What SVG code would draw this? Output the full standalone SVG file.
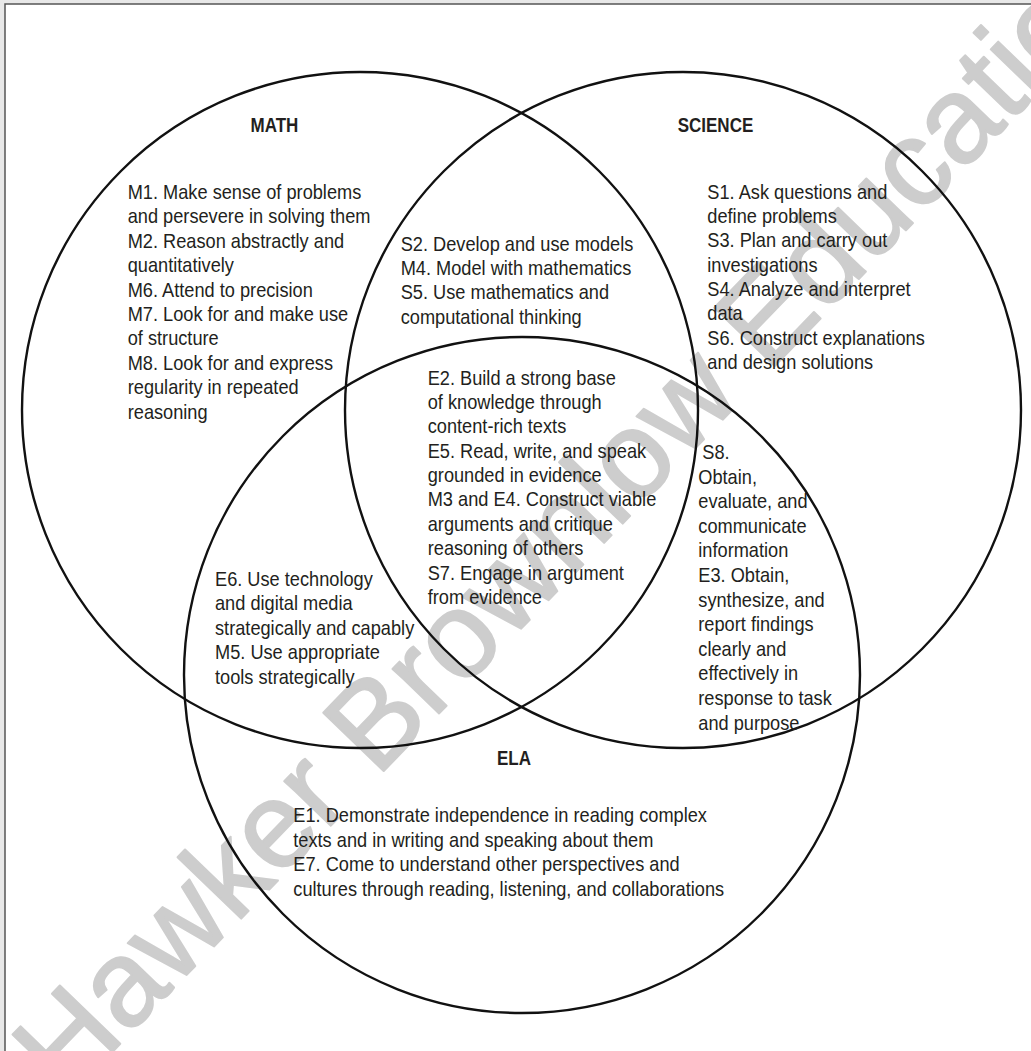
<svg xmlns="http://www.w3.org/2000/svg" width="1031" height="1051" viewBox="0 0 1031 1051">
<style>
  .frame { fill: #ffffff; stroke: #555555; stroke-width: 1.5; }
  .ring { fill: none; stroke: #111111; stroke-width: 2.4; }
  .t { font-family: "Liberation Sans", Arial, Helvetica, sans-serif; font-size: 20.5px; fill: #231f20; }
  .h { font-family: "Liberation Sans", Arial, Helvetica, sans-serif; font-size: 21px; font-weight: bold; fill: #231f20; }
  .wm { font-family: "Liberation Sans", Arial, Helvetica, sans-serif; font-size: 122px; fill: #cdcdcd; stroke: #cdcdcd; stroke-width: 2; stroke-linejoin: round; }
</style>
<rect x="0" y="0" width="1031" height="1051" fill="#e8e8e8"/>
<rect class="frame" x="5" y="4" width="1030" height="1052"/>
<text class="wm" transform="translate(66,1100) rotate(-46)">Hawker Brownlow Education</text>

<g id="connectors">
  <circle id="circle-math" class="ring" cx="360" cy="410" r="338"/>
  <circle id="circle-science" class="ring" cx="683" cy="410" r="338"/>
  <circle id="circle-ela" class="ring" cx="522" cy="675" r="338"/>
</g>

<g id="math">
  <text class="h" transform="translate(250.5,132) scale(0.81,1)">MATH</text>
  <text class="t" transform="translate(127.7,199) scale(0.888,1)">
    <tspan x="0" y="0">M1. Make sense of problems</tspan>
    <tspan x="0" y="24.4">and persevere in solving them</tspan>
    <tspan x="0" y="48.8">M2. Reason abstractly and</tspan>
    <tspan x="0" y="73.2">quantitatively</tspan>
    <tspan x="0" y="97.6">M6. Attend to precision</tspan>
    <tspan x="0" y="122">M7. Look for and make use</tspan>
    <tspan x="0" y="146.4">of structure</tspan>
    <tspan x="0" y="170.8">M8. Look for and express</tspan>
    <tspan x="0" y="195.2">regularity in repeated</tspan>
    <tspan x="0" y="219.6">reasoning</tspan>
  </text>
</g>

<g id="science">
  <text class="h" transform="translate(677.7,132) scale(0.81,1)">SCIENCE</text>
  <text class="t" transform="translate(707.3,198.5) scale(0.888,1)">
    <tspan x="0" y="0">S1. Ask questions and</tspan>
    <tspan x="0" y="24.4">define problems</tspan>
    <tspan x="0" y="48.8">S3. Plan and carry out</tspan>
    <tspan x="0" y="73.2">investigations</tspan>
    <tspan x="0" y="97.6">S4. Analyze and interpret</tspan>
    <tspan x="0" y="122">data</tspan>
    <tspan x="0" y="146.4">S6. Construct explanations</tspan>
    <tspan x="0" y="170.8">and design solutions</tspan>
  </text>
</g>

<g id="math-science">
  <text class="t" transform="translate(400.7,250.7) scale(0.888,1)">
    <tspan x="0" y="0">S2. Develop and use models</tspan>
    <tspan x="0" y="24.4">M4. Model with mathematics</tspan>
    <tspan x="0" y="48.8">S5. Use mathematics and</tspan>
    <tspan x="0" y="73.2">computational thinking</tspan>
  </text>
</g>

<g id="all-three">
  <text class="t" transform="translate(427.7,384.5) scale(0.888,1)">
    <tspan x="0" y="0">E2. Build a strong base</tspan>
    <tspan x="0" y="24.4">of knowledge through</tspan>
    <tspan x="0" y="48.8">content-rich texts</tspan>
    <tspan x="0" y="73.2">E5. Read, write, and speak</tspan>
    <tspan x="0" y="97.6">grounded in evidence</tspan>
    <tspan x="0" y="122">M3 and E4. Construct viable</tspan>
    <tspan x="0" y="146.4">arguments and critique</tspan>
    <tspan x="0" y="170.8">reasoning of others</tspan>
    <tspan x="0" y="195.2">S7. Engage in argument</tspan>
    <tspan x="0" y="219.6">from evidence</tspan>
  </text>
</g>

<g id="math-ela">
  <text class="t" transform="translate(215,586) scale(0.888,1)">
    <tspan x="0" y="0">E6. Use technology</tspan>
    <tspan x="0" y="24.4">and digital media</tspan>
    <tspan x="0" y="48.8">strategically and capably</tspan>
    <tspan x="0" y="73.2">M5. Use appropriate</tspan>
    <tspan x="0" y="97.6">tools strategically</tspan>
  </text>
</g>

<g id="science-ela">
  <text class="t" transform="translate(698.3,459) scale(0.888,1)">
    <tspan x="4.5" y="0">S8.</tspan>
    <tspan x="0" y="24.6">Obtain,</tspan>
    <tspan x="0" y="49.2">evaluate, and</tspan>
    <tspan x="0" y="73.8">communicate</tspan>
    <tspan x="0" y="98.4">information</tspan>
    <tspan x="0" y="123">E3. Obtain,</tspan>
    <tspan x="0" y="147.6">synthesize, and</tspan>
    <tspan x="0" y="172.2">report findings</tspan>
    <tspan x="0" y="196.8">clearly and</tspan>
    <tspan x="0" y="221.4">effectively in</tspan>
    <tspan x="0" y="246">response to task</tspan>
    <tspan x="0" y="270.6">and purpose</tspan>
  </text>
</g>

<g id="ela">
  <text class="h" transform="translate(497,765) scale(0.81,1)">ELA</text>
  <text class="t" transform="translate(293.3,822) scale(0.888,1)">
    <tspan x="0" y="0">E1. Demonstrate independence in reading complex</tspan>
    <tspan x="0" y="24.6">texts and in writing and speaking about them</tspan>
    <tspan x="0" y="49.2">E7. Come to understand other perspectives and</tspan>
    <tspan x="0" y="73.8">cultures through reading, listening, and collaborations</tspan>
  </text>
</g>
</svg>
